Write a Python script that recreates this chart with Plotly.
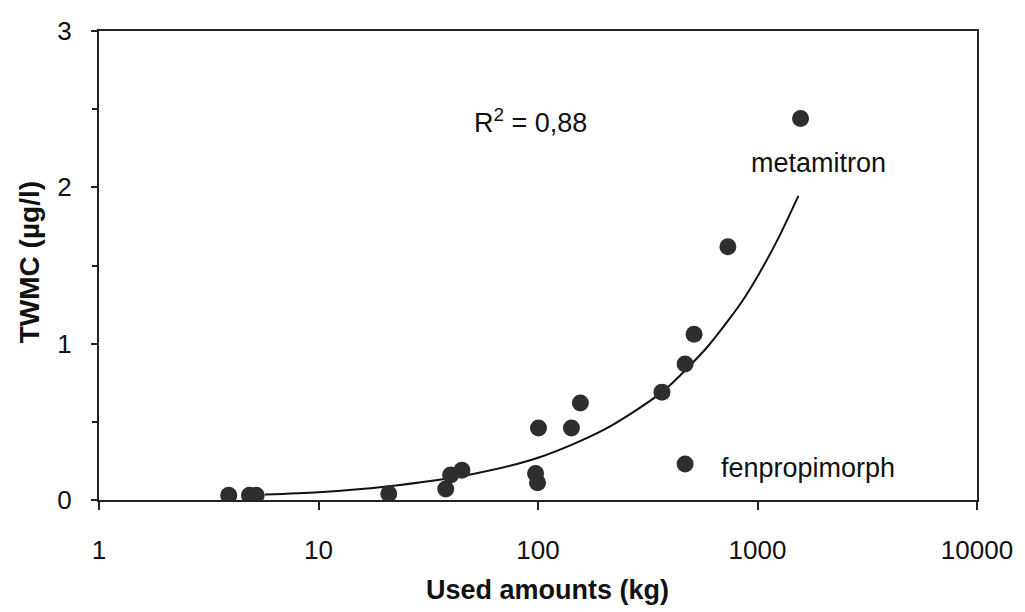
import plotly.graph_objects as go

# Measured points (used amount in kg, TWMC in µg/l)
used_kg = [3.9, 4.85, 5.2, 20.9, 38, 40, 45, 97.5, 99.5, 100.5, 142, 156, 367, 468, 514, 733, 468, 1571]
twmc = [0.03, 0.03, 0.03, 0.04, 0.07, 0.16, 0.19, 0.17, 0.11, 0.46, 0.46, 0.62, 0.69, 0.87, 1.06, 1.62, 0.23, 2.44]

# Trend curve
curve_x = [5.7, 10, 20, 50, 100, 200, 367, 500, 600, 746, 850, 1000, 1250, 1535]
curve_y = [0.035, 0.05, 0.085, 0.165, 0.27, 0.45, 0.69, 0.87, 0.99, 1.16, 1.27, 1.43, 1.68, 1.945]

x_tickvals = [1, 10, 100, 1000, 10000]
x_ticktext = ["1", "10", "100", "1000", "10000"]
y_tickvals = [0, 1, 2, 3]

FONT = "Liberation Sans, Arial, Helvetica, sans-serif"

fig = go.Figure()
fig.add_trace(go.Scatter(x=curve_x, y=curve_y, mode="lines",
                         line=dict(color="#111", width=2, shape="spline", smoothing=0.8),
                         hoverinfo="skip", showlegend=False))
fig.add_trace(go.Scatter(x=used_kg, y=twmc, mode="markers",
                         marker=dict(size=17, color="#2e2e2e", line=dict(width=0)), showlegend=False))

fig.update_layout(
    width=1025, height=612,
    margin=dict(l=99, r=45, t=31, b=112),
    paper_bgcolor="white", plot_bgcolor="white",
    font=dict(family=FONT, color="#111", size=26),
    showlegend=False,
)
fig.update_xaxes(type="log", range=[0, 4], tickvals=x_tickvals, ticktext=x_ticktext,
                 showgrid=False, zeroline=False, showline=True, linecolor="#222", linewidth=2,
                 mirror=True, ticks="outside", ticklen=8, tickwidth=1.5, tickcolor="#222",
                 ticklabelstandoff=18, tickfont=dict(size=26, family=FONT))
fig.update_yaxes(range=[0, 3], tickvals=y_tickvals, showgrid=False, zeroline=False,
                 showline=True, linecolor="#222", linewidth=2, mirror=True,
                 ticks="outside", ticklen=6, tickwidth=1.5, tickcolor="#222",
                 minor=dict(dtick=0.5, ticks="outside", ticklen=5, tickcolor="#222", tickwidth=1.5),
                 ticklabelstandoff=14, tickfont=dict(size=26, family=FONT))

annotations = [
    dict(text="<b>Used amounts (kg)</b>", xref="paper", yref="paper", x=(549 - 99) / 881, y=-(590 - 500) / 469,
         xanchor="center", yanchor="middle", showarrow=False, font=dict(size=27, family=FONT)),
    dict(text="<b>TWMC (µg/l)</b>", xref="paper", yref="paper", x=(29 - 99) / 881, y=(500 - 262) / 469,
         xanchor="center", yanchor="middle", textangle=-90, showarrow=False, font=dict(size=28, family=FONT)),
    dict(text="R<sup>2</sup> = 0,88", xref="paper", yref="paper", x=(473 - 99) / 881, y=(500 - 121) / 469,
         xanchor="left", yanchor="middle", showarrow=False, font=dict(size=27, family=FONT)),
    dict(text="metamitron", xref="paper", yref="paper", x=(751 - 99) / 881, y=(500 - 163) / 469,
         xanchor="left", yanchor="middle", showarrow=False, font=dict(size=27, family=FONT)),
    dict(text="fenpropimorph", xref="paper", yref="paper", x=(721 - 99) / 881, y=(500 - 468) / 469,
         xanchor="left", yanchor="middle", showarrow=False, font=dict(size=27, family=FONT)),
]
fig.update_layout(annotations=annotations)

fig.write_html("out.html")
